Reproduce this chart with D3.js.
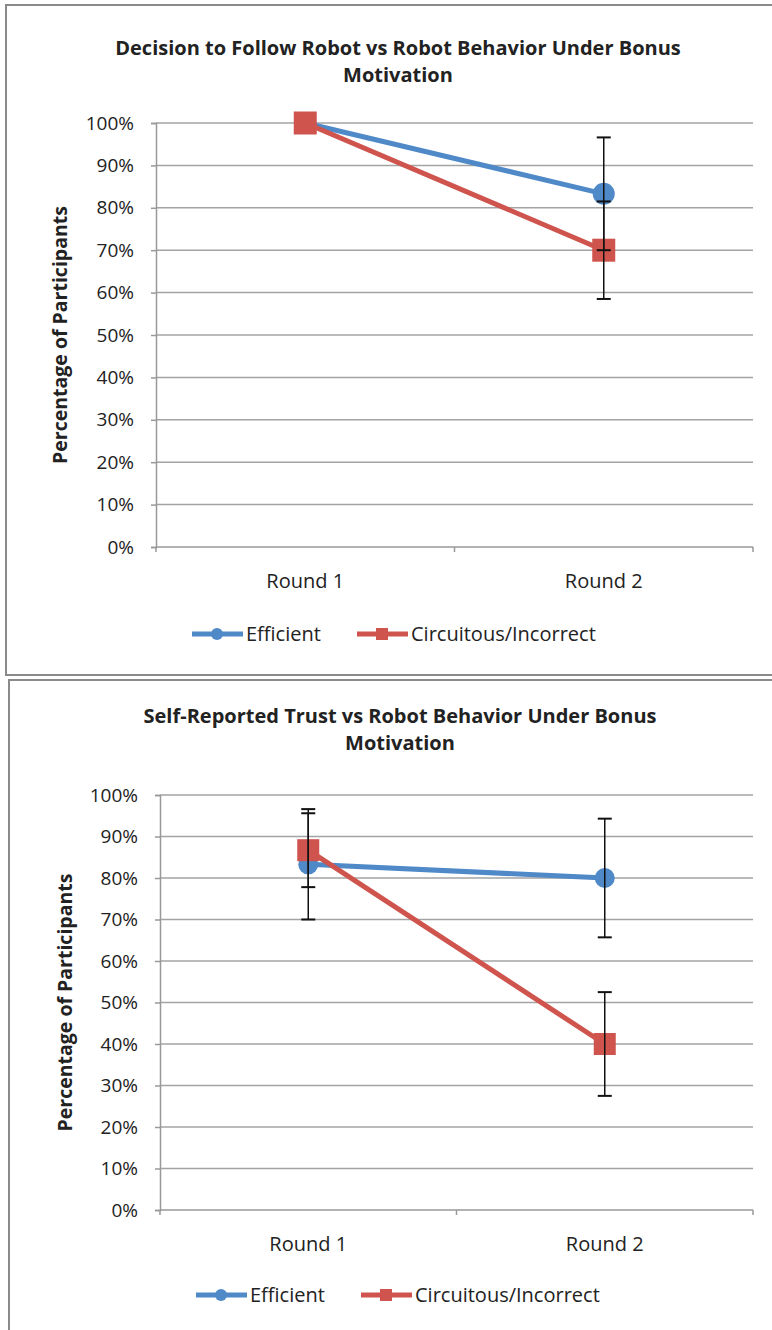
<!DOCTYPE html>
<html>
<head>
    <meta charset="utf-8">
    <title>Robot behavior under bonus motivation</title>
    <script src="https://d3js.org/d3.v7.min.js"></script>
    <style>
        body { margin: 0; background: #fff; }
        text { font-family: "Open Sans", Lato, sans-serif; fill: #222; }
        .chart-title { font-weight: bold; font-size: 20px; }
        .axis-title { font-weight: bold; font-size: 19.5px; }
        .tick-label { font-size: 20px; }
        .legend-label { font-size: 20px; }
    </style>
</head>
<body>
    <div id="chart"></div>

    <script>
        // data
        const categories = ["Round 1", "Round 2"];
        const seriesNames = ["Efficient", "Circuitous/Incorrect"];
        const yTicks = [0, 10, 20, 30, 40, 50, 60, 70, 80, 90, 100];

        const followEfficient = [100, 83.3];
        const followEfficientErr = [0, 13.3];
        const followCircuitous = [100, 70];
        const followCircuitousErr = [0, 11.5];

        const trustEfficient = [83.3, 80];
        const trustEfficientErr = [13.3, 14.3];
        const trustCircuitous = [86.7, 40];
        const trustCircuitousErr = [8.9, 12.5];

        const colors = ["#4f89c8", "#cf544d"];

        const svg = d3.select("#chart")
            .append("svg")
            .attr("width", 772)
            .attr("height", 1330);

        // panel frames
        function drawPanel(x, y, w, h) {
            svg.append("rect")
                .attr("x", x).attr("y", y)
                .attr("width", w).attr("height", h)
                .attr("fill", "#fff")
                .attr("stroke", "#8a8a8a")
                .attr("stroke-width", 2);
        }
        drawPanel(6, 5, 820, 670);
        drawPanel(9, 680, 820, 700);

        function drawChart(opt) {
            const g = svg.append("g");

            const x = d3.scaleBand()
                .domain(categories)
                .range([opt.left, opt.right]);

            const y = d3.scaleLinear()
                .domain([0, 100])
                .range([opt.bottom, opt.top]);

            // title
            opt.title.forEach((line, i) => {
                g.append("text")
                    .attr("class", "chart-title")
                    .attr("x", opt.titleX)
                    .attr("y", opt.titleY + i * 27)
                    .attr("text-anchor", "middle")
                    .text(line);
            });

            // gridlines
            g.selectAll(".grid")
                .data(yTicks.filter(d => d > 0))
                .enter()
                .append("line")
                .attr("x1", opt.left)
                .attr("x2", opt.right)
                .attr("y1", d => y(d))
                .attr("y2", d => y(d))
                .attr("stroke", "#a3a3a3")
                .attr("stroke-width", 1.5);

            // y axis
            const yAxis = g.append("g")
                .attr("transform", `translate(${opt.left},0)`)
                .call(d3.axisLeft(y).tickValues(yTicks).tickSize(5).tickPadding(17).tickFormat(d => d + "%"));
            yAxis.select(".domain").attr("stroke", "#999").attr("stroke-width", 1.5);
            yAxis.selectAll(".tick line").attr("stroke", "#999").attr("stroke-width", 1.5);
            yAxis.selectAll(".tick text")
                .attr("class", "tick-label")
                .attr("fill", "#222")
                .style("font-size", "19px")
                .style("font-family", "'Open Sans', sans-serif");

            // x axis with ticks between categories
            const xAxis = g.append("g")
                .attr("transform", `translate(0,${opt.bottom})`);
            xAxis.append("line")
                .attr("x1", opt.left).attr("x2", opt.right)
                .attr("stroke", "#999").attr("stroke-width", 1.5);
            const bounds = categories.map(c => x(c)).concat([opt.right]);
            xAxis.selectAll(".xtick")
                .data(bounds)
                .enter()
                .append("line")
                .attr("x1", d => d).attr("x2", d => d)
                .attr("y1", 0).attr("y2", 5)
                .attr("stroke", "#999").attr("stroke-width", 1.5);
            xAxis.selectAll(".xlabel")
                .data(categories)
                .enter()
                .append("text")
                .attr("class", "tick-label")
                .attr("x", d => x(d) + x.bandwidth() / 2)
                .attr("y", 41)
                .attr("text-anchor", "middle")
                .text(d => d);

            // y axis title
            g.append("text")
                .attr("class", "axis-title")
                .attr("transform", `translate(${opt.axisTitleX},${(opt.top + opt.bottom) / 2}) rotate(-90)`)
                .attr("text-anchor", "middle")
                .attr("dy", "0.35em")
                .text("Percentage of Participants");

            const cx = c => x(c) + x.bandwidth() / 2;
            const series = [
                {name: seriesNames[0], values: opt.efficient, err: opt.efficientErr, color: colors[0]},
                {name: seriesNames[1], values: opt.circuitous, err: opt.circuitousErr, color: colors[1]}
            ];

            const line = d3.line()
                .x((d, i) => cx(categories[i]))
                .y(d => y(d));

            series.forEach((s, si) => {
                g.append("path")
                    .datum(s.values)
                    .attr("fill", "none")
                    .attr("stroke", s.color)
                    .attr("stroke-width", 5)
                    .attr("d", line);

                if (si === 0) {
                    g.selectAll(null)
                        .data(s.values)
                        .enter()
                        .append("circle")
                        .attr("cx", (d, i) => cx(categories[i]))
                        .attr("cy", d => y(d))
                        .attr("r", opt.markerR)
                        .attr("fill", s.color);
                } else {
                    g.selectAll(null)
                        .data(s.values)
                        .enter()
                        .append("rect")
                        .attr("x", (d, i) => cx(categories[i]) - opt.markerS / 2)
                        .attr("y", d => y(d) - opt.markerS / 2)
                        .attr("width", opt.markerS)
                        .attr("height", opt.markerS)
                        .attr("fill", s.color);
                }
            });

            // error bars on top
            series.forEach(s => {
                s.values.forEach((v, i) => {
                    const e = s.err[i];
                    if (!e) return;
                    const px = cx(categories[i]);
                    g.append("line")
                        .attr("x1", px).attr("x2", px)
                        .attr("y1", y(v + e)).attr("y2", y(v - e))
                        .attr("stroke", "#111").attr("stroke-width", 1.5);
                    [v + e, v - e].forEach(t => {
                        g.append("line")
                            .attr("x1", px - 7).attr("x2", px + 7)
                            .attr("y1", y(t)).attr("y2", y(t))
                            .attr("stroke", "#111").attr("stroke-width", 2);
                    });
                });
            });

            // legend
            const lg = g.append("g")
                .attr("transform", `translate(${opt.legendX},${opt.legendY})`);
            lg.append("line").attr("x1", 0).attr("x2", 51).attr("stroke", colors[0]).attr("stroke-width", 5);
            lg.append("circle").attr("cx", 25).attr("r", 6).attr("fill", colors[0]);
            lg.append("text").attr("class", "legend-label").attr("x", 54).attr("dy", "0.35em").text(seriesNames[0]);
            lg.append("line").attr("x1", 165).attr("x2", 216).attr("stroke", colors[1]).attr("stroke-width", 5);
            lg.append("rect").attr("x", 184).attr("y", -6).attr("width", 12).attr("height", 12).attr("fill", colors[1]);
            lg.append("text").attr("class", "legend-label").attr("x", 219).attr("dy", "0.35em").text(seriesNames[1]);
        }

        drawChart({
            title: ["Decision to Follow Robot vs Robot Behavior Under Bonus", "Motivation"],
            titleX: 398, titleY: 55,
            left: 156, right: 753, top: 123, bottom: 547,
            axisTitleX: 60,
            efficient: followEfficient, efficientErr: followEfficientErr,
            circuitous: followCircuitous, circuitousErr: followCircuitousErr,
            markerR: 11, markerS: 23,
            legendX: 192, legendY: 634
        });

        drawChart({
            title: ["Self-Reported Trust vs Robot Behavior Under Bonus", "Motivation"],
            titleX: 400, titleY: 723,
            left: 160, right: 753, top: 795, bottom: 1210,
            axisTitleX: 65,
            efficient: trustEfficient, efficientErr: trustEfficientErr,
            circuitous: trustCircuitous, circuitousErr: trustCircuitousErr,
            markerR: 10, markerS: 22,
            legendX: 196, legendY: 1295
        });
    </script>
</body>
</html>
